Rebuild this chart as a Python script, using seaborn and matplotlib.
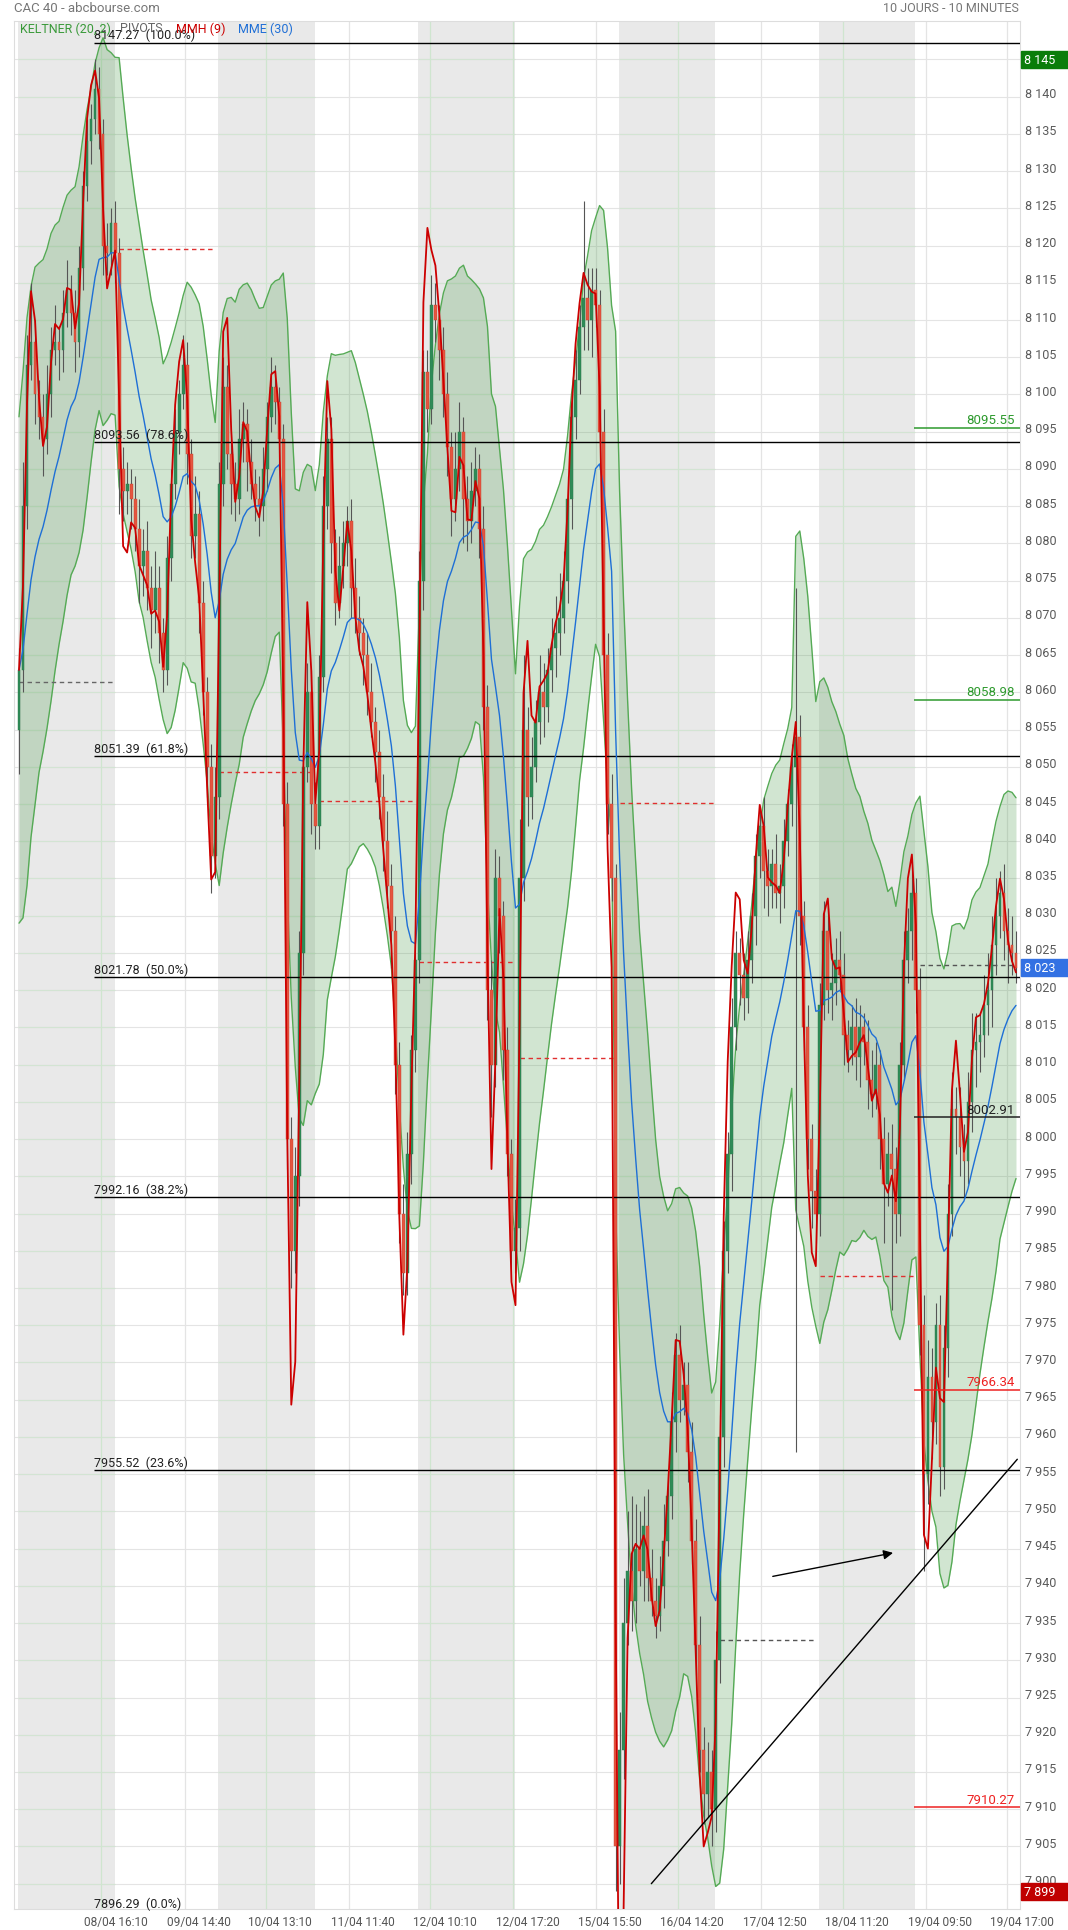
import numpy as np
import pandas as pd
import matplotlib
matplotlib.use("Agg")
import matplotlib.pyplot as plt
import seaborn as sns
from matplotlib.transforms import blended_transform_factory, ScaledTranslation
from matplotlib.patches import Rectangle, FancyArrowPatch

sns.set_theme(style="white")
plt.rcParams['font.family'] = ['Roboto', 'DejaVu Sans']

# ---------------- data (20-minute candles, 25 per trading day) ----------------
first_open = 8055
close_d1 = [8063, 8085, 8104, 8107, 8100, 8097, 8094, 8100, 8106, 8107, 8106, 8111, 8114,
            8111, 8107, 8117, 8128, 8134, 8137, 8141, 8135, 8120, 8119, 8123, 8119]
close_d2 = [8090, 8087, 8088, 8086, 8082, 8077, 8079, 8074, 8071, 8074, 8068, 8063, 8078,
            8088, 8095, 8100, 8104, 8092, 8081, 8084, 8072, 8060, 8050, 8038, 8046]
close_d3 = [8088, 8101, 8092, 8088, 8086, 8094, 8096, 8091, 8088, 8086, 8085, 8090, 8097,
            8101, 8099, 8094, 8045, 8000, 7985, 7995, 8025, 8050, 8060, 8045, 8042]
close_d4 = [8062, 8085, 8094, 8080, 8072, 8077, 8080, 8083, 8074, 8070, 8068, 8065, 8060,
            8056, 8052, 8046, 8040, 8034, 8028, 8010, 7990, 7982, 7998, 8012, 8024]
close_d5 = [8075, 8103, 8098, 8112, 8110, 8106, 8100, 8093, 8086, 8090, 8095, 8086, 8083,
            8087, 8090, 8082, 8058, 8020, 8010, 8035, 8030, 8012, 7998, 7985, 7988]
close_d6 = [8035, 8055, 8046, 8050, 8056, 8060, 8058, 8063, 8066, 8068, 8070, 8075, 8086,
            8097, 8102, 8109, 8113, 8110, 8114, 8112, 8095, 8065, 8045, 8035, 7905]
close_d7 = [7918, 7935, 7942, 7938, 7945, 7942, 7948, 7941, 7938, 7936, 7940, 7946, 7952,
            7962, 7971, 7965, 7967, 7958, 7946, 7932, 7918, 7912, 7915, 7910, 7930]
close_d8 = [7960, 7985, 7998, 8015, 8025, 8022, 8019, 8024, 8030, 8038, 8042, 8036, 8034,
            8037, 8033, 8034, 8040, 8045, 8050, 8054, 8030, 8015, 8000, 7993, 7990]
close_d9 = [8018, 8028, 8020, 8021, 8024, 8022, 8014, 8012, 8015, 8011, 8015, 8013, 8008,
            8006, 8010, 8000, 7994, 7998, 7996, 7990, 8010, 8024, 8028, 8033, 8020]
close_d10 = [7975, 7955, 7968, 7962, 7975, 7956, 7972, 7990, 8004, 8003, 7999, 7997, 8005,
             8012, 8013, 8014, 8018, 8020, 8026, 8030, 8033, 8028, 8026, 8025, 8023]

# upper / lower shadow beyond the body (points)
up_d1 = [3, 6, 4, 8, 3, 2, 3, 4, 3, 5, 2, 3, 4, 2, 3, 3, 2, 3, 2, 4, 3, 2, 3, 2, 3]
dn_d1 = [6, 3, 3, 2, 4, 3, 5, 2, 3, 2, 4, 3, 2, 3, 4, 2, 3, 2, 3, 2, 2, 4, 3, 3, 4]
up_d2 = [2, 3, 3, 2, 3, 4, 3, 4, 3, 5, 3, 2, 3, 2, 3, 2, 4, 3, 2, 5, 3, 3, 2, 3, 4]
dn_d2 = [6, 4, 3, 4, 3, 5, 4, 3, 5, 3, 4, 3, 2, 3, 2, 3, 2, 4, 3, 3, 4, 3, 4, 5, 3]
up_d3 = [3, 4, 3, 2, 3, 4, 3, 2, 3, 2, 3, 3, 2, 4, 3, 2, 2, 3, 3, 4, 3, 2, 4, 3, 3]
dn_d3 = [3, 3, 2, 4, 3, 2, 3, 4, 2, 3, 4, 2, 3, 2, 3, 4, 3, 4, 5, 3, 4, 3, 2, 4, 3]
up_d4 = [3, 4, 3, 3, 2, 4, 3, 2, 3, 4, 3, 2, 3, 4, 2, 3, 3, 4, 3, 2, 3, 4, 3, 2, 4]
dn_d4 = [3, 2, 3, 4, 3, 2, 3, 3, 4, 2, 3, 4, 3, 2, 4, 3, 4, 3, 5, 4, 4, 3, 3, 4, 3]
up_d5 = [4, 3, 3, 4, 3, 2, 3, 3, 2, 5, 4, 2, 3, 4, 3, 2, 3, 3, 4, 4, 3, 2, 3, 2, 4]
dn_d5 = [3, 4, 3, 2, 3, 4, 3, 4, 5, 3, 3, 6, 4, 3, 2, 4, 3, 4, 7, 3, 5, 4, 3, 4, 3]
up_d6 = [8, 10, 3, 4, 3, 5, 4, 3, 4, 5, 6, 4, 3, 3, 4, 3, 13, 4, 3, 3, 2, 3, 3, 4, 2]
dn_d6 = [3, 3, 4, 3, 2, 3, 4, 2, 3, 4, 3, 2, 3, 4, 3, 2, 3, 4, 5, 3, 4, 3, 4, 3, 6]
up_d7 = [5, 6, 8, 10, 6, 5, 4, 5, 4, 3, 4, 5, 3, 4, 3, 4, 3, 3, 4, 3, 4, 3, 4, 3, 4]
dn_d7 = [5, 4, 3, 4, 3, 2, 4, 3, 2, 3, 2, 3, 2, 3, 4, 3, 2, 4, 3, 4, 3, 4, 3, 5, 3]
up_d8 = [3, 4, 3, 4, 3, 2, 3, 4, 3, 3, 2, 4, 3, 2, 4, 3, 3, 2, 3, 20, 3, 2, 3, 2, 3]
dn_d8 = [3, 4, 3, 5, 3, 4, 3, 2, 3, 4, 3, 5, 4, 3, 2, 4, 3, 2, 3, 92, 4, 3, 4, 5, 4]
up_d9 = [3, 4, 3, 4, 3, 4, 3, 2, 3, 4, 3, 2, 3, 4, 3, 2, 3, 3, 4, 3, 3, 4, 3, 3, 2]
dn_d9 = [3, 2, 3, 4, 3, 2, 4, 3, 2, 3, 4, 3, 4, 3, 2, 4, 8, 3, 19, 4, 3, 2, 3, 4, 3]
up_d10 = [3, 4, 5, 4, 3, 4, 3, 4, 5, 3, 4, 3, 4, 5, 4, 3, 4, 5, 4, 5, 3, 4, 3, 4, 3]
dn_d10 = [4, 13, 4, 5, 3, 4, 3, 4, 3, 5, 4, 5, 3, 4, 5, 4, 3, 4, 5, 4, 3, 4, 5, 3, 2]

# fibonacci retracement levels
fib_values = [8147.27, 8093.56, 8051.39, 8021.78, 7992.16, 7955.52, 7896.29]
fib_pcts = ["100.0%", "78.6%", "61.8%", "50.0%", "38.2%", "23.6%", "0.0%"]
# daily pivot (dashed) levels
pivot_values = [8061.4, 8119.5, 8049.3, 8045.4, 8023.8, 8010.9, 8045.1, 7932.7, 7981.6, 8023.4]
pivot_colors = ["#666666", "#e03030", "#e03030", "#e03030", "#e03030", "#e03030",
                "#e03030", "#555555", "#e03030", "#555555"]
# last-day support / resistance levels
sr_values = [8095.55, 8058.98, 8002.91, 7966.34, 7910.27]
sr_colors = ["#2e9a2e", "#2e9a2e", "#222222", "#ee2222", "#ee2222"]
# time axis labels
time_labels = ["08/04 16:10", "09/04 14:40", "10/04 13:10", "11/04 11:40", "12/04 10:10",
               "12/04 17:20", "15/04 15:50", "16/04 14:20", "17/04 12:50", "18/04 11:20",
               "19/04 09:50", "19/04 17:00"]
time_label_pos = [0.84, 1.674, 2.485, 3.313, 4.128, 4.96, 5.781, 6.601, 7.428, 8.247,
                  9.077, 9.893]
y_ticks = list(range(7900, 8150, 5))
box_levels = [(8145, "8 145", "#0a7d0a"), (8023, "8 023", "#3371e3"), (7899, "7 899", "#c00000")]
trend_pts = ([6.337, 9.993], [7900.0, 7957.0])
arrow_pts = ([7.523, 8.779], [7941.2, 7944.5])

# ---------------- build OHLC ----------------
closes = close_d1 + close_d2 + close_d3 + close_d4 + close_d5 + close_d6 + close_d7 + close_d8 + close_d9 + close_d10
ups = up_d1 + up_d2 + up_d3 + up_d4 + up_d5 + up_d6 + up_d7 + up_d8 + up_d9 + up_d10
dns = dn_d1 + dn_d2 + dn_d3 + dn_d4 + dn_d5 + dn_d6 + dn_d7 + dn_d8 + dn_d9 + dn_d10
NPD = 25
x = np.array([d + (j + 0.5) / NPD for d in range(10) for j in range(NPD)])
c = np.array(closes, float)
o = np.r_[first_open, c[:-1]]
h = np.maximum(o, c) + np.array(ups)
l = np.minimum(o, c) - np.array(dns)
df = pd.DataFrame({"x": x, "open": o, "high": h, "low": l, "close": c})

# indicators
s = df["close"]
df["mme"] = s.ewm(span=15, adjust=False).mean()


def wma(series, n):
    w = np.arange(1, n + 1, dtype=float)
    return series.rolling(n, min_periods=1).apply(
        lambda a: np.dot(a, w[-len(a):]) / w[-len(a):].sum(), raw=True)


df["mmh"] = wma(2 * wma(s, 2) - wma(s, 5), 2)
prev_c = np.r_[c[0], c[:-1]]
tr = np.maximum(h, prev_c) - np.minimum(l, prev_c)
atr = pd.Series(tr).ewm(span=20, adjust=False).mean()
mid = s.ewm(span=12, adjust=False).mean()
df["kup"] = mid + 2.0 * atr
df["klo"] = mid - 2.0 * atr

# ---------------- figure ----------------
W, H = 1068, 1931
fig = plt.figure(figsize=(W / 100, H / 100), dpi=100)
ax = fig.add_axes([14 / W, 1 - 1910 / H, 1006 / W, (1910 - 21.7) / H])
ax.set_xlim(-0.03, 10.02)
ax.set_ylim(7896.6, 8150.2)
ax.set_xticks([])
ax.set_yticks([])
ax.set_facecolor("white")
for sp in ax.spines.values():
    sp.set_color("#dddddd")
    sp.set_linewidth(0.8)

gray_days = [0, 2, 4, 6, 8]
for d in gray_days:
    ax.axvspan(d + 0.01, d + 0.975, color="#e9e9e9", lw=0, zorder=0)

# grid
for v in y_ticks:
    ax.axhline(v, color="#e4e4e4", lw=0.8, zorder=0.5)
    for d in gray_days:
        ax.hlines(v, d + 0.01, d + 0.975, color="#d3e4d3", lw=0.8, zorder=0.6)
for gx in time_label_pos:
    in_gray = any(d + 0.01 <= gx <= d + 0.975 for d in gray_days)
    ax.axvline(gx, color="#cfe5cf" if in_gray else "#e4e4e4", lw=0.9, zorder=0.6)

# keltner
ax.fill_between(df["x"], df["klo"], df["kup"], color="#4a9a4a", alpha=0.25, lw=0, zorder=1)
sns.lineplot(data=df, x="x", y="kup", ax=ax, color="#55aa55", lw=1.0, zorder=1.2, legend=False)
sns.lineplot(data=df, x="x", y="klo", ax=ax, color="#55aa55", lw=1.0, zorder=1.2, legend=False)

# pivots (dashed, per day)
for d, (pv, pc) in enumerate(zip(pivot_values, pivot_colors)):
    ax.hlines(pv, d + 0.02, d + 0.975, color=pc, lw=1.0, linestyles=(0, (3.2, 2.6)), zorder=2)

# candles
up_mask = df["close"] >= df["open"]
ax.vlines(df["x"], df["low"], df["high"], color="#555555", lw=0.8, zorder=3)
body = (df["close"] - df["open"]).abs().clip(lower=0.7)
bottom = np.minimum(df["open"], df["close"])
ax.bar(df["x"][up_mask], body[up_mask], bottom=bottom[up_mask], width=0.028,
       color="#2e8b57", edgecolor="#2a7a4a", lw=0.3, zorder=3.2)
ax.bar(df["x"][~up_mask], body[~up_mask], bottom=bottom[~up_mask], width=0.028,
       color="#e5553f", edgecolor="#c84030", lw=0.3, zorder=3.2)

# fibonacci lines
fib_x0 = (93.6 - 17) / 100.2
for fv, fp in zip(fib_values, fib_pcts):
    ax.hlines(fv, fib_x0, 10.02, color="black", lw=1.0, zorder=3.5)
    ax.text(fib_x0, fv + 0.15, f"{fv:.2f}  ({fp})", ha="left", va="bottom", fontsize=9,
            color="#222222", zorder=6, clip_on=False)

# moving averages
sns.lineplot(data=df, x="x", y="mme", ax=ax, color="#1e6fd6", lw=1.0, zorder=4, legend=False)
sns.lineplot(data=df, x="x", y="mmh", ax=ax, color="#cc0000", lw=1.3, zorder=4.2, legend=False)

# support / resistance of last day
sr_x0 = (915 - 17) / 100.2
for sv, scol in zip(sr_values, sr_colors):
    ax.hlines(sv, sr_x0, 10.02, color=scol, lw=1.1, zorder=4.5)
    ax.text(9.97, sv + 0.2, f"{sv:.2f}", ha="right", va="bottom", fontsize=9.5, color=scol, zorder=6)

# trend line and arrow
ax.plot(trend_pts[0], trend_pts[1], color="black", lw=1.0, zorder=5, clip_on=False)
ax.add_patch(FancyArrowPatch((arrow_pts[0][0], arrow_pts[1][0]), (arrow_pts[0][1], arrow_pts[1][1]),
                             arrowstyle="-|>", mutation_scale=14, color="black", lw=1.0, zorder=5))

ax.set_xlabel("")
ax.set_ylabel("")

# right axis labels
tr_right = blended_transform_factory(ax.transAxes, ax.transData)
for v in y_ticks:
    lbl = f"{v // 1000} {v % 1000:03d}"
    ax.text(1.0, v, lbl, transform=tr_right + ScaledTranslation(5 / 100, 3 / 100, fig.dpi_scale_trans),
            ha="left", va="center", fontsize=9, color="#5a5a5a", clip_on=False)

for bv, bt, bc in box_levels:
    hh = 17 / 7.444
    ax.add_patch(Rectangle((1.0 + 1 / 1006, bv - hh / 2), 48 / 1006, hh, transform=tr_right,
                           color=bc, clip_on=False, zorder=7))
    ax.text(1.0, bv, bt, transform=tr_right + ScaledTranslation(4 / 100, 0, fig.dpi_scale_trans),
            ha="left", va="center", fontsize=9, color="white", clip_on=False, zorder=8)

# time axis labels
tr_bottom = blended_transform_factory(ax.transData, ax.transAxes)
for gx, tl in zip(time_label_pos, time_labels):
    ax.text(gx, 0, tl, transform=tr_bottom + ScaledTranslation(14.5 / 100, -13 / 100, fig.dpi_scale_trans),
            ha="center", va="center", fontsize=8.6, color="#555555", clip_on=False)

# header texts
fig.text(14 / W, 1 - 8.5 / H, "CAC 40 - abcbourse.com", ha="left", va="center", fontsize=9.5, color="#777777")
fig.text(1019 / W, 1 - 8.5 / H, "10 JOURS - 10 MINUTES", ha="right", va="center", fontsize=9, color="#777777")
leg_items = [(19.6, "KELTNER (20, 2)", "#3a9a3a"), (120, "PIVOTS", "#666666"),
             (176, "MMH (9)", "#cc0000"), (238, "MME (30)", "#1f6fd6")]
for lx, lt, lc in leg_items:
    fig.text(lx / W, 1 - 29 / H, lt, ha="left", va="center", fontsize=9, color=lc, zorder=9)

fig.savefig("out.png", dpi=100)
